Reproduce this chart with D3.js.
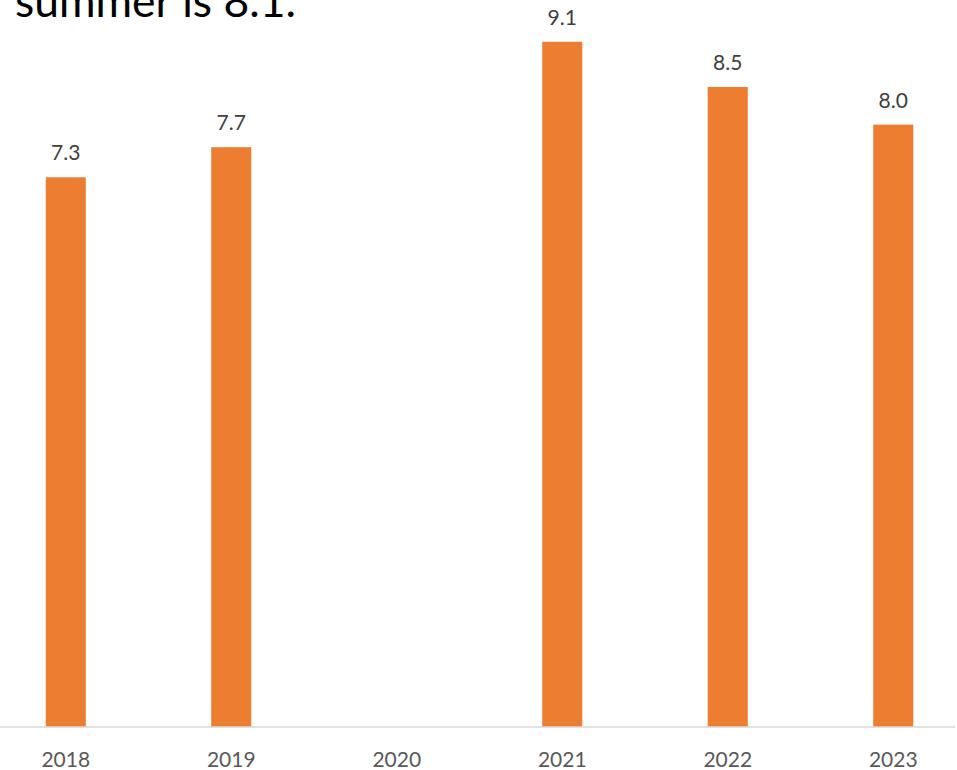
<!DOCTYPE html>
<html>
<head>
<meta charset="utf-8">
<script src="https://cdn.jsdelivr.net/npm/d3@7"></script>
<style>
  body { margin: 0; background: #fff; }
  svg { display: block; }
</style>
</head>
<body>
<svg id="chart" width="957" height="770"></svg>
<script>
///// *** DATA *** /////
var years = ['2018', '2019', '2020', '2021', '2022', '2023'],
    scores = [7.3, 7.7, null, 9.1, 8.5, 8.0],
    titleText = 'summer is 8.1.',
    barColor = '#ED7D31';

var svg = d3.select('#chart'),
    width = 957,
    baseY = 727;

// plot area runs a little past the picture edges (it was cropped)
var x = d3.scaleBand()
  .domain(years)
  .range([-17, 976])
  .paddingInner(0.758)
  .paddingOuter(0.379);

var y = d3.scaleLinear()
  .domain([0, 10])
  .range([baseY, baseY - 753]);

var rows = years.map(function(d, i) { return { year: d, value: scores[i] }; });

// title (only the last line is visible)
svg.append('text')
  .attr('x', 15)
  .attr('y', 17)
  .attr('font-family', 'Lato, "Open Sans", sans-serif')
  .attr('font-size', 45)
  .attr('fill', '#000')
  .attr('textLength', 281)
  .attr('lengthAdjust', 'spacingAndGlyphs')
  .text(titleText);

// bars
svg.selectAll('rect.bar')
  .data(rows.filter(function(d) { return d.value != null; }))
  .enter().append('rect')
  .attr('class', 'bar')
  .attr('x', function(d) { return x(d.year); })
  .attr('width', x.bandwidth())
  .attr('y', function(d) { return y(d.value); })
  .attr('height', function(d) { return baseY - y(d.value); })
  .attr('fill', barColor);

// value labels
svg.selectAll('text.val')
  .data(rows.filter(function(d) { return d.value != null; }))
  .enter().append('text')
  .attr('class', 'val')
  .attr('x', function(d) { return x(d.year) + x.bandwidth() / 2; })
  .attr('y', function(d) { return y(d.value) - 17; })
  .attr('text-anchor', 'middle')
  .attr('font-family', 'Lato, "Open Sans", sans-serif')
  .attr('font-size', 21)
  .attr('fill', '#404040')
  .text(function(d) { return d.value.toFixed(1); });

// x axis
var axis = svg.append('g')
  .attr('transform', 'translate(0,' + baseY + ')')
  .call(d3.axisBottom(x).tickSize(0).tickPadding(0));

axis.select('.domain')
  .attr('d', 'M0,0H955')
  .attr('stroke', '#D9D9D9')
  .attr('stroke-width', 1.5);

axis.selectAll('.tick text')
  .attr('y', 40)
  .attr('dy', null)
  .attr('font-family', 'Lato, "Open Sans", sans-serif')
  .attr('font-size', 21)
  .attr('fill', '#595959');
</script>
</body>
</html>
